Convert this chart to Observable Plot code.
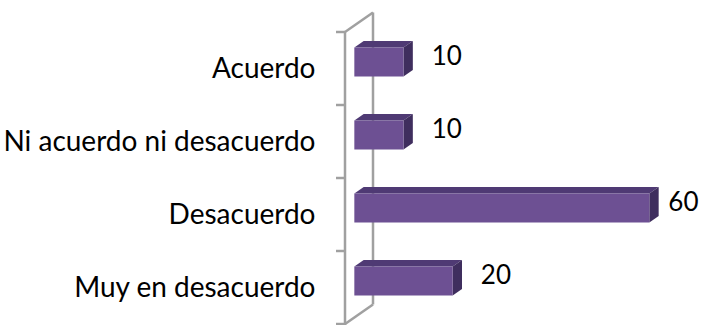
<!DOCTYPE html>
<html>
<head>
<meta charset="utf-8">
<script src="https://cdn.jsdelivr.net/npm/d3@7"></script>
<script src="https://cdn.jsdelivr.net/npm/@observablehq/plot@0.6"></script>
<style>
  html, body { margin: 0; padding: 0; background: #ffffff; }
  #chart { width: 701px; height: 325px; overflow: hidden; }
</style>
</head>
<body>
<div id="chart"></div>
<script>
// ---- data ----
const categories = ["Acuerdo", "Ni acuerdo ni desacuerdo", "Desacuerdo", "Muy en desacuerdo"];
const values = [10, 10, 60, 20];
const xDomain = [0, 60];

const data = categories.map((c, i) => ({ cat: c, value: values[i] }));

// ---- 3D projection style ----
const DEPTH = [28, -19.5];   // back-wall offset
const FRONT = 1 / 3, BACK = 2 / 3; // bar depth (fraction of depth)
const BAR_HALF = 14.5;
const COL_FRONT = "#6D5093", COL_TOP = "#4F3A74", COL_SIDE = "#3F2E5E";
const WALL = "#a0a0a0";
const LABEL_DX = 37, LABEL_FONT = 26;

function bandwidth(scales, dimensions) {
  if (scales.y && typeof scales.y.bandwidth === "function") return scales.y.bandwidth();
  return (dimensions.height - dimensions.marginTop - dimensions.marginBottom) / categories.length;
}

function wallRender(index, scales, values, dimensions) {
  const bw = bandwidth(scales, dimensions);
  const x0 = scales.x(0);
  const yTop = scales.y(categories[0]);
  const yBot = scales.y(categories[categories.length - 1]) + bw;
  const g = d3.create("svg:g").attr("stroke", WALL).attr("stroke-width", 2.5).attr("fill", "none");
  const seg = (a, b, c, d) => g.append("line").attr("x1", a).attr("y1", b).attr("x2", c).attr("y2", d);
  seg(x0, yTop, x0, yBot + 2);
  seg(x0 + DEPTH[0], yTop + DEPTH[1], x0 + DEPTH[0], yBot + DEPTH[1]);
  seg(x0, yTop, x0 + DEPTH[0], yTop + DEPTH[1]);
  seg(x0, yBot, x0 + DEPTH[0], yBot + DEPTH[1]);
  for (let i = 0; i <= categories.length; i++) {
    const yy = yTop + i * bw;
    seg(x0 - 9, yy, x0, yy);
  }
  return g.node();
}

function bar3dRender(index, scales, values, dimensions) {
  const bw = bandwidth(scales, dimensions);
  const g = d3.create("svg:g");
  const fx = FRONT * DEPTH[0], fy = FRONT * DEPTH[1];
  const bx = BACK * DEPTH[0], by = BACK * DEPTH[1];
  for (const i of index) {
    const d = data[i];
    const xl = scales.x(0), xr = scales.x(d.value);
    const yc = scales.y(d.cat) + bw / 2;
    const yt = yc - BAR_HALF, yb = yc + BAR_HALF;
    const pts = (arr) => arr.map(p => p.join(",")).join(" ");
    g.append("polygon").attr("fill", COL_TOP).attr("points", pts([
      [xl + fx, yt + fy], [xr + fx, yt + fy], [xr + bx, yt + by], [xl + bx, yt + by]
    ]));
    g.append("polygon").attr("fill", COL_SIDE).attr("points", pts([
      [xr + fx, yt + fy], [xr + bx, yt + by], [xr + bx, yb + by], [xr + fx, yb + fy]
    ]));
    g.append("rect").attr("fill", COL_FRONT)
      .attr("x", xl + fx).attr("y", yt + fy)
      .attr("width", xr - xl).attr("height", yb - yt);
  }
  return g.node();
}

// keep value labels inside the chart area (as the original does)
const ctx2d = document.createElement("canvas").getContext("2d");
ctx2d.font = `${LABEL_FONT}px Lato`;
function labelRender(index, scales, vals, dimensions, context, next) {
  const xs = Float64Array.from(vals.x);
  for (const i of index) {
    const w = ctx2d.measureText(String(data[i].value)).width;
    xs[i] = Math.min(xs[i], dimensions.width - 3 - LABEL_DX - w);
  }
  return next(index, scales, { ...vals, x: xs }, dimensions, context);
}

const chart = Plot.plot({
  width: 701,
  height: 325,
  marginLeft: 345,
  marginRight: 61,
  marginTop: 30,
  marginBottom: 0,
  style: { fontFamily: "Lato", color: "#000", background: "#fff", overflow: "visible" },
  x: { domain: xDomain, axis: null },
  y: { domain: categories, padding: 0 },
  marks: [
    Plot.ruleY(data, { y: "cat", render: wallRender }),
    Plot.barX(data, { x: "value", y: "cat", render: bar3dRender }),
    Plot.axisY({ label: null, tickSize: 0, tickPadding: 30, fontSize: 28 }),
    Plot.text(data, {
      x: "value", y: "cat", text: d => String(d.value),
      dx: LABEL_DX, dy: -12.5, textAnchor: "start", fontSize: LABEL_FONT, fill: "#000",
      render: labelRender
    })
  ]
});

document.getElementById("chart").append(chart);
</script>
</body>
</html>
